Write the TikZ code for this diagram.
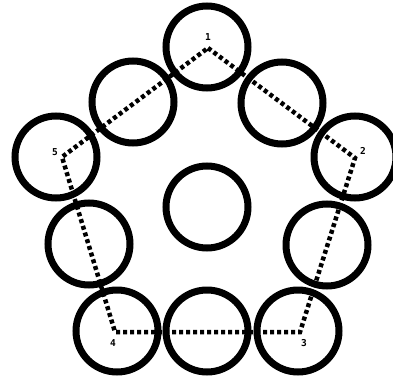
\documentclass[tikz,border=0pt]{standalone}
\usepackage{fontspec}
\newfontfamily\labfont{DejaVu Sans Mono}
\begin{document}
\begin{tikzpicture}[x=1pt,y=-1pt,
  ring/.style={circle,draw,line width=7pt,minimum size=82pt,inner sep=0pt},
  dots/.style={line width=4.5pt,dash pattern=on 4pt off 3pt},
  lab/.style={font=\labfont\bfseries\fontsize{9.5}{9.5}\selectfont,inner sep=0pt}]
\useasboundingbox (0,0) rectangle (393,380);
% vertices
\coordinate (v1) at (208,48);
\coordinate (v2) at (355,158);
\coordinate (v3) at (300,332);
\coordinate (v4) at (115,332);
\coordinate (v5) at (62,157);
% rings
\node[ring] (c1) at (207,47) {};
\node[ring] (c2) at (355,157) {};
\node[ring] (c3) at (298,331) {};
\node[ring] (c4) at (117,331) {};
\node[ring] (c5) at (56,157) {};
\node[ring] (m12) at (282,103) {};
\node[ring] (m23) at (327,245) {};
\node[ring] (m34) at (207,331) {};
\node[ring] (m45) at (89,244) {};
\node[ring] (m51) at (133,102) {};
\node[ring] (c0) at (207,207) {};
% dotted pentagon
\draw[dots] (v1) -- (v2) -- (v3) -- (v4) -- (v5) -- cycle;
% labels
\node[lab] (l1) at (208,37) {1};
\node[lab] (l2) at (363,151) {2};
\node[lab] (l3) at (304,343) {3};
\node[lab] (l4) at (113,343) {4};
\node[lab] (l5) at (55,152) {5};
\end{tikzpicture}
\end{document}
